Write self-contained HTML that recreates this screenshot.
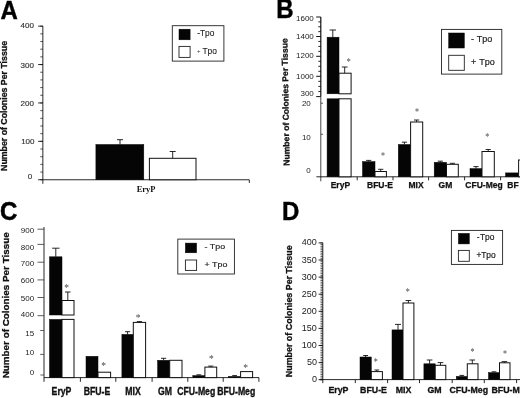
<!DOCTYPE html>
<html lang="en">
<head>
<meta charset="utf-8">
<title>Figure: Number of Colonies Per Tissue</title>
<style>
html,body{margin:0;padding:0;background:#fff;}
body{width:520px;height:398px;overflow:hidden;}
svg{display:block;filter:blur(0.35px);}
</style>
</head>
<body>
<svg width="520" height="398" viewBox="0 0 520 398">
<rect x="0" y="0" width="520" height="398" fill="#fff"/>
<text transform="translate(0.50,18.80) scale(1,1.045)" font-size="24" font-weight="bold" text-anchor="start" font-family='"Liberation Sans", sans-serif' fill="#000" stroke="#000" stroke-width="0.4">A</text>
<line x1="42.85" y1="26.00" x2="42.85" y2="183.75" stroke="#111" stroke-width="0.9"/>
<line x1="42.85" y1="179.75" x2="249.30" y2="179.75" stroke="#111" stroke-width="0.9"/>
<line x1="249.30" y1="179.75" x2="249.30" y2="182.95" stroke="#111" stroke-width="0.9"/>
<line x1="38.15" y1="179.75" x2="42.85" y2="179.75" stroke="#111" stroke-width="0.9"/>
<text x="32.20" y="178.85" font-size="8.0" font-weight="normal" text-anchor="end" font-family='"Liberation Sans", sans-serif' fill="#333" stroke="#333" stroke-width="0.15">0</text>
<line x1="38.15" y1="141.35" x2="42.85" y2="141.35" stroke="#111" stroke-width="0.9"/>
<text x="34.50" y="144.45" font-size="8.0" font-weight="normal" text-anchor="end" font-family='"Liberation Sans", sans-serif' fill="#333" stroke="#333" stroke-width="0.15">100</text>
<line x1="38.15" y1="102.95" x2="42.85" y2="102.95" stroke="#111" stroke-width="0.9"/>
<text x="33.90" y="106.05" font-size="8.0" font-weight="normal" text-anchor="end" font-family='"Liberation Sans", sans-serif' fill="#333" stroke="#333" stroke-width="0.15">200</text>
<line x1="38.15" y1="64.55" x2="42.85" y2="64.55" stroke="#111" stroke-width="0.9"/>
<text x="33.90" y="67.65" font-size="8.0" font-weight="normal" text-anchor="end" font-family='"Liberation Sans", sans-serif' fill="#333" stroke="#333" stroke-width="0.15">300</text>
<line x1="38.15" y1="26.15" x2="42.85" y2="26.15" stroke="#111" stroke-width="0.9"/>
<text x="33.90" y="28.35" font-size="8.0" font-weight="normal" text-anchor="end" font-family='"Liberation Sans", sans-serif' fill="#333" stroke="#333" stroke-width="0.15">400</text>
<line x1="40.25" y1="179.75" x2="42.85" y2="179.75" stroke="#111" stroke-width="0.7"/>
<line x1="40.25" y1="172.07" x2="42.85" y2="172.07" stroke="#111" stroke-width="0.7"/>
<line x1="40.25" y1="164.39" x2="42.85" y2="164.39" stroke="#111" stroke-width="0.7"/>
<line x1="40.25" y1="156.71" x2="42.85" y2="156.71" stroke="#111" stroke-width="0.7"/>
<line x1="40.25" y1="149.03" x2="42.85" y2="149.03" stroke="#111" stroke-width="0.7"/>
<line x1="40.25" y1="141.35" x2="42.85" y2="141.35" stroke="#111" stroke-width="0.7"/>
<line x1="40.25" y1="133.67" x2="42.85" y2="133.67" stroke="#111" stroke-width="0.7"/>
<line x1="40.25" y1="125.99" x2="42.85" y2="125.99" stroke="#111" stroke-width="0.7"/>
<line x1="40.25" y1="118.31" x2="42.85" y2="118.31" stroke="#111" stroke-width="0.7"/>
<line x1="40.25" y1="110.63" x2="42.85" y2="110.63" stroke="#111" stroke-width="0.7"/>
<line x1="40.25" y1="102.95" x2="42.85" y2="102.95" stroke="#111" stroke-width="0.7"/>
<line x1="40.25" y1="95.27" x2="42.85" y2="95.27" stroke="#111" stroke-width="0.7"/>
<line x1="40.25" y1="87.59" x2="42.85" y2="87.59" stroke="#111" stroke-width="0.7"/>
<line x1="40.25" y1="79.91" x2="42.85" y2="79.91" stroke="#111" stroke-width="0.7"/>
<line x1="40.25" y1="72.23" x2="42.85" y2="72.23" stroke="#111" stroke-width="0.7"/>
<line x1="40.25" y1="64.55" x2="42.85" y2="64.55" stroke="#111" stroke-width="0.7"/>
<line x1="40.25" y1="56.87" x2="42.85" y2="56.87" stroke="#111" stroke-width="0.7"/>
<line x1="40.25" y1="49.19" x2="42.85" y2="49.19" stroke="#111" stroke-width="0.7"/>
<line x1="40.25" y1="41.51" x2="42.85" y2="41.51" stroke="#111" stroke-width="0.7"/>
<line x1="40.25" y1="33.83" x2="42.85" y2="33.83" stroke="#111" stroke-width="0.7"/>
<line x1="40.25" y1="26.15" x2="42.85" y2="26.15" stroke="#111" stroke-width="0.7"/>
<text transform="translate(7.30,170.95) rotate(-90)" font-size="8.5" font-weight="bold" font-family='"Liberation Sans", sans-serif' fill="#111" stroke="#111" stroke-width="0.3" textLength="130.00" lengthAdjust="spacingAndGlyphs">Number of Colonies Per Tissue</text>
<rect x="95.90" y="144.50" width="47.90" height="35.25" fill="#050505" stroke="#050505" stroke-width="0.5"/>
<line x1="120.00" y1="139.70" x2="120.00" y2="144.50" stroke="#111" stroke-width="0.9"/>
<line x1="117.00" y1="139.70" x2="123.00" y2="139.70" stroke="#111" stroke-width="0.9"/>
<rect x="149.40" y="158.30" width="46.60" height="21.45" fill="#fff" stroke="#111" stroke-width="1.0"/>
<line x1="172.70" y1="151.50" x2="172.70" y2="158.30" stroke="#111" stroke-width="0.9"/>
<line x1="169.70" y1="151.50" x2="175.70" y2="151.50" stroke="#111" stroke-width="0.9"/>
<text x="146.10" y="191.90" font-size="8.5" font-weight="bold" text-anchor="middle" font-family='"Liberation Serif", serif' fill="#111">EryP</text>
<rect x="172.30" y="25.70" width="51.60" height="35.40" fill="#fff" stroke="#222" stroke-width="0.9"/>
<rect x="179.00" y="29.20" width="11.10" height="10.60" fill="#050505" stroke="#050505" stroke-width="0.5"/>
<rect x="179.00" y="46.40" width="11.10" height="11.00" fill="#fff" stroke="#222" stroke-width="0.9"/>
<text x="197.20" y="35.50" font-size="8.4" font-weight="normal" text-anchor="start" font-family='"Liberation Sans", sans-serif' fill="#222" stroke="#222" stroke-width="0.1">-</text>
<text x="199.90" y="35.50" font-size="8.4" font-weight="normal" text-anchor="start" font-family='"Liberation Sans", sans-serif' fill="#222" stroke="#222" stroke-width="0.1">Tpo</text>
<text x="202.40" y="53.50" font-size="8.4" font-weight="normal" text-anchor="start" font-family='"Liberation Sans", sans-serif' fill="#222" stroke="#222" stroke-width="0.1">Tpo</text>
<text x="197.00" y="53.00" font-size="6" font-weight="normal" text-anchor="start" font-family='"Liberation Sans", sans-serif' fill="#333">+</text>
<text transform="translate(276.20,18.30) scale(1,1.12)" font-size="24" font-weight="bold" text-anchor="start" font-family='"Liberation Sans", sans-serif' fill="#000" stroke="#000" stroke-width="0.4">B</text>
<line x1="320.80" y1="17.00" x2="320.80" y2="96.50" stroke="#111" stroke-width="1.2"/>
<line x1="320.80" y1="96.50" x2="320.80" y2="181.30" stroke="#333" stroke-width="0.9"/>
<line x1="316.40" y1="176.80" x2="520.00" y2="176.80" stroke="#111" stroke-width="0.9"/>
<line x1="316.20" y1="17.00" x2="320.80" y2="17.00" stroke="#111" stroke-width="1.0"/>
<text x="313.80" y="21.30" font-size="8.0" font-weight="normal" text-anchor="end" font-family='"Liberation Sans", sans-serif' fill="#222">1600</text>
<line x1="316.20" y1="36.50" x2="320.80" y2="36.50" stroke="#111" stroke-width="1.0"/>
<text x="313.80" y="39.30" font-size="8.0" font-weight="normal" text-anchor="end" font-family='"Liberation Sans", sans-serif' fill="#222">1400</text>
<line x1="316.20" y1="56.30" x2="320.80" y2="56.30" stroke="#111" stroke-width="1.0"/>
<text x="313.80" y="57.50" font-size="8.0" font-weight="normal" text-anchor="end" font-family='"Liberation Sans", sans-serif' fill="#222">1200</text>
<line x1="316.20" y1="76.30" x2="320.80" y2="76.30" stroke="#111" stroke-width="1.0"/>
<text x="313.80" y="78.90" font-size="8.0" font-weight="normal" text-anchor="end" font-family='"Liberation Sans", sans-serif' fill="#222">1000</text>
<line x1="316.20" y1="96.60" x2="320.80" y2="96.60" stroke="#111" stroke-width="1.0"/>
<text x="313.80" y="96.40" font-size="8.0" font-weight="normal" text-anchor="end" font-family='"Liberation Sans", sans-serif' fill="#222">300</text>
<line x1="320.80" y1="103.20" x2="323.00" y2="103.20" stroke="#333" stroke-width="0.8"/>
<text x="310.80" y="106.20" font-size="8.0" font-weight="normal" text-anchor="end" font-family='"Liberation Sans", sans-serif' fill="#222">20</text>
<line x1="320.80" y1="134.30" x2="323.00" y2="134.30" stroke="#333" stroke-width="0.8"/>
<text x="310.80" y="140.00" font-size="8.0" font-weight="normal" text-anchor="end" font-family='"Liberation Sans", sans-serif' fill="#222">10</text>
<text x="310.80" y="173.00" font-size="8.0" font-weight="normal" text-anchor="end" font-family='"Liberation Sans", sans-serif' fill="#222">0</text>
<line x1="318.30" y1="21.88" x2="320.80" y2="21.88" stroke="#111" stroke-width="0.9"/>
<line x1="318.30" y1="26.75" x2="320.80" y2="26.75" stroke="#111" stroke-width="0.9"/>
<line x1="318.30" y1="31.62" x2="320.80" y2="31.62" stroke="#111" stroke-width="0.9"/>
<line x1="318.30" y1="41.45" x2="320.80" y2="41.45" stroke="#111" stroke-width="0.9"/>
<line x1="318.30" y1="46.40" x2="320.80" y2="46.40" stroke="#111" stroke-width="0.9"/>
<line x1="318.30" y1="51.35" x2="320.80" y2="51.35" stroke="#111" stroke-width="0.9"/>
<line x1="318.30" y1="61.30" x2="320.80" y2="61.30" stroke="#111" stroke-width="0.9"/>
<line x1="318.30" y1="66.30" x2="320.80" y2="66.30" stroke="#111" stroke-width="0.9"/>
<line x1="318.30" y1="71.30" x2="320.80" y2="71.30" stroke="#111" stroke-width="0.9"/>
<line x1="318.30" y1="81.35" x2="320.80" y2="81.35" stroke="#111" stroke-width="0.9"/>
<line x1="318.30" y1="86.40" x2="320.80" y2="86.40" stroke="#111" stroke-width="0.9"/>
<line x1="318.30" y1="91.45" x2="320.80" y2="91.45" stroke="#111" stroke-width="0.9"/>
<text transform="translate(289.60,165.75) rotate(-91.0)" font-size="8.5" font-weight="bold" font-family='"Liberation Sans", sans-serif' fill="#111" stroke="#111" stroke-width="0.3" textLength="127.50" lengthAdjust="spacingAndGlyphs">Number of Colonies Per Tissue</text>
<line x1="357.20" y1="176.80" x2="357.20" y2="180.30" stroke="#111" stroke-width="0.9"/>
<line x1="393.00" y1="176.80" x2="393.00" y2="180.30" stroke="#111" stroke-width="0.9"/>
<line x1="428.60" y1="176.80" x2="428.60" y2="180.30" stroke="#111" stroke-width="0.9"/>
<line x1="464.60" y1="176.80" x2="464.60" y2="180.30" stroke="#111" stroke-width="0.9"/>
<line x1="500.60" y1="176.80" x2="500.60" y2="180.30" stroke="#111" stroke-width="0.9"/>
<rect x="327.10" y="37.20" width="11.90" height="56.60" fill="#050505" stroke="#050505" stroke-width="0.5"/>
<rect x="327.10" y="98.80" width="11.90" height="78.00" fill="#050505" stroke="#050505" stroke-width="0.5"/>
<rect x="339.00" y="73.20" width="12.10" height="20.60" fill="#fff" stroke="#111" stroke-width="1.0"/>
<rect x="339.00" y="98.80" width="12.10" height="78.00" fill="#fff" stroke="#111" stroke-width="1.0"/>
<line x1="332.80" y1="30.00" x2="332.80" y2="37.20" stroke="#111" stroke-width="0.9"/>
<line x1="329.60" y1="30.00" x2="336.00" y2="30.00" stroke="#111" stroke-width="0.9"/>
<line x1="344.70" y1="67.00" x2="344.70" y2="73.20" stroke="#111" stroke-width="0.9"/>
<line x1="341.80" y1="67.00" x2="347.60" y2="67.00" stroke="#111" stroke-width="0.9"/>
<text transform="translate(348.70,65.06) scale(1,1.2)" font-size="8" font-weight="normal" text-anchor="middle" font-family='"Liberation Serif", serif' fill="#484848">*</text>
<rect x="362.50" y="161.60" width="12.50" height="15.20" fill="#050505" stroke="#050505" stroke-width="0.5"/>
<line x1="368.70" y1="160.40" x2="368.70" y2="161.60" stroke="#111" stroke-width="0.9"/>
<line x1="366.10" y1="160.40" x2="371.30" y2="160.40" stroke="#111" stroke-width="0.9"/>
<rect x="375.00" y="171.50" width="11.40" height="5.30" fill="#fff" stroke="#111" stroke-width="1.0"/>
<line x1="380.70" y1="169.30" x2="380.70" y2="171.50" stroke="#111" stroke-width="0.9"/>
<line x1="378.10" y1="169.30" x2="383.30" y2="169.30" stroke="#111" stroke-width="0.9"/>
<text transform="translate(382.90,158.56) scale(1,1.2)" font-size="8" font-weight="normal" text-anchor="middle" font-family='"Liberation Serif", serif' fill="#484848">*</text>
<rect x="398.30" y="144.50" width="12.30" height="32.30" fill="#050505" stroke="#050505" stroke-width="0.5"/>
<line x1="404.40" y1="142.20" x2="404.40" y2="144.50" stroke="#111" stroke-width="0.9"/>
<line x1="401.80" y1="142.20" x2="407.00" y2="142.20" stroke="#111" stroke-width="0.9"/>
<rect x="410.60" y="122.00" width="12.10" height="54.80" fill="#fff" stroke="#111" stroke-width="1.0"/>
<line x1="416.60" y1="120.00" x2="416.60" y2="122.00" stroke="#111" stroke-width="0.9"/>
<line x1="414.00" y1="120.00" x2="419.20" y2="120.00" stroke="#111" stroke-width="0.9"/>
<text transform="translate(417.10,114.56) scale(1,1.2)" font-size="8" font-weight="normal" text-anchor="middle" font-family='"Liberation Serif", serif' fill="#484848">*</text>
<rect x="434.20" y="162.30" width="12.30" height="14.50" fill="#050505" stroke="#050505" stroke-width="0.5"/>
<line x1="440.30" y1="161.20" x2="440.30" y2="162.30" stroke="#111" stroke-width="0.9"/>
<line x1="437.70" y1="161.20" x2="442.90" y2="161.20" stroke="#111" stroke-width="0.9"/>
<rect x="446.50" y="164.30" width="11.80" height="12.50" fill="#fff" stroke="#111" stroke-width="1.0"/>
<line x1="452.40" y1="163.30" x2="452.40" y2="164.30" stroke="#111" stroke-width="0.9"/>
<line x1="449.80" y1="163.30" x2="455.00" y2="163.30" stroke="#111" stroke-width="0.9"/>
<rect x="470.00" y="168.60" width="12.00" height="8.20" fill="#050505" stroke="#050505" stroke-width="0.5"/>
<line x1="476.00" y1="166.60" x2="476.00" y2="168.60" stroke="#111" stroke-width="0.9"/>
<line x1="473.40" y1="166.60" x2="478.60" y2="166.60" stroke="#111" stroke-width="0.9"/>
<rect x="482.00" y="151.50" width="12.30" height="25.30" fill="#fff" stroke="#111" stroke-width="1.0"/>
<line x1="488.20" y1="149.50" x2="488.20" y2="151.50" stroke="#111" stroke-width="0.9"/>
<line x1="485.60" y1="149.50" x2="490.80" y2="149.50" stroke="#111" stroke-width="0.9"/>
<text transform="translate(487.30,140.26) scale(1,1.2)" font-size="8" font-weight="normal" text-anchor="middle" font-family='"Liberation Serif", serif' fill="#484848">*</text>
<rect x="505.60" y="172.90" width="12.80" height="3.90" fill="#050505" stroke="#050505" stroke-width="0.5"/>
<rect x="518.60" y="160.00" width="12.40" height="16.80" fill="#fff" stroke="#111" stroke-width="1.0"/>
<text x="340.40" y="187.70" font-size="8.5" font-weight="bold" text-anchor="middle" font-family='"Liberation Sans", sans-serif' fill="#111" stroke="#111" stroke-width="0.25">EryP</text>
<text x="380.00" y="187.70" font-size="8.5" font-weight="bold" text-anchor="middle" font-family='"Liberation Sans", sans-serif' fill="#111" stroke="#111" stroke-width="0.25">BFU-E</text>
<text x="416.00" y="187.70" font-size="8.5" font-weight="bold" text-anchor="middle" font-family='"Liberation Sans", sans-serif' fill="#111" stroke="#111" stroke-width="0.25">MIX</text>
<text x="445.40" y="187.70" font-size="8.5" font-weight="bold" text-anchor="middle" font-family='"Liberation Sans", sans-serif' fill="#111" stroke="#111" stroke-width="0.25">GM</text>
<text x="484.00" y="187.70" font-size="8.5" font-weight="bold" text-anchor="middle" font-family='"Liberation Sans", sans-serif' fill="#111" stroke="#111" stroke-width="0.25">CFU-Meg</text>
<text x="507.30" y="187.70" font-size="8.5" font-weight="bold" text-anchor="start" font-family='"Liberation Sans", sans-serif' fill="#111" stroke="#111" stroke-width="0.25">BF</text>
<rect x="441.50" y="29.40" width="60.30" height="44.70" fill="#fff" stroke="#222" stroke-width="0.9"/>
<rect x="448.70" y="33.00" width="15.60" height="15.00" fill="#050505" stroke="#050505" stroke-width="0.5"/>
<rect x="448.70" y="55.30" width="15.60" height="15.00" fill="#fff" stroke="#222" stroke-width="0.9"/>
<text x="471.00" y="42.40" font-size="9.0" font-weight="normal" text-anchor="start" font-family='"Liberation Sans", sans-serif' fill="#222" stroke="#222" stroke-width="0.2">-</text>
<text x="476.70" y="42.40" font-size="9.0" font-weight="normal" text-anchor="start" font-family='"Liberation Sans", sans-serif' fill="#222" stroke="#222" stroke-width="0.2">Tpo</text>
<text x="471.00" y="64.70" font-size="9.0" font-weight="normal" text-anchor="start" font-family='"Liberation Sans", sans-serif' fill="#222" stroke="#222" stroke-width="0.2">+</text>
<text x="479.30" y="64.70" font-size="9.0" font-weight="normal" text-anchor="start" font-family='"Liberation Sans", sans-serif' fill="#222" stroke="#222" stroke-width="0.2">Tpo</text>
<text transform="translate(0.00,219.60) scale(1,1.1)" font-size="24" font-weight="bold" text-anchor="start" font-family='"Liberation Sans", sans-serif' fill="#000" stroke="#000" stroke-width="0.5">C</text>
<line x1="44.00" y1="227.00" x2="44.00" y2="381.80" stroke="#111" stroke-width="0.9"/>
<line x1="44.00" y1="377.60" x2="259.00" y2="377.60" stroke="#111" stroke-width="0.9"/>
<line x1="37.50" y1="229.20" x2="44.00" y2="229.20" stroke="#333" stroke-width="0.8"/>
<text x="34.10" y="232.60" font-size="8.0" font-weight="normal" text-anchor="end" font-family='"Liberation Sans", sans-serif' fill="#222">900</text>
<line x1="37.50" y1="244.40" x2="44.00" y2="244.40" stroke="#333" stroke-width="0.8"/>
<text x="34.10" y="250.40" font-size="8.0" font-weight="normal" text-anchor="end" font-family='"Liberation Sans", sans-serif' fill="#222">800</text>
<line x1="37.50" y1="262.20" x2="44.00" y2="262.20" stroke="#333" stroke-width="0.8"/>
<text x="34.10" y="265.90" font-size="8.0" font-weight="normal" text-anchor="end" font-family='"Liberation Sans", sans-serif' fill="#222">700</text>
<line x1="37.50" y1="279.90" x2="44.00" y2="279.90" stroke="#333" stroke-width="0.8"/>
<text x="34.10" y="283.00" font-size="8.0" font-weight="normal" text-anchor="end" font-family='"Liberation Sans", sans-serif' fill="#222">600</text>
<line x1="37.50" y1="297.50" x2="44.00" y2="297.50" stroke="#333" stroke-width="0.8"/>
<text x="34.10" y="301.30" font-size="8.0" font-weight="normal" text-anchor="end" font-family='"Liberation Sans", sans-serif' fill="#222">500</text>
<line x1="37.50" y1="315.70" x2="44.00" y2="315.70" stroke="#333" stroke-width="0.8"/>
<text x="34.10" y="316.50" font-size="8.0" font-weight="normal" text-anchor="end" font-family='"Liberation Sans", sans-serif' fill="#222">400</text>
<line x1="40.20" y1="330.50" x2="44.00" y2="330.50" stroke="#333" stroke-width="0.8"/>
<text x="34.10" y="335.70" font-size="8.0" font-weight="normal" text-anchor="end" font-family='"Liberation Sans", sans-serif' fill="#222">15</text>
<line x1="40.20" y1="354.40" x2="44.00" y2="354.40" stroke="#333" stroke-width="0.8"/>
<text x="34.10" y="355.10" font-size="8.0" font-weight="normal" text-anchor="end" font-family='"Liberation Sans", sans-serif' fill="#222">10</text>
<line x1="40.40" y1="375.00" x2="44.00" y2="375.00" stroke="#333" stroke-width="0.8"/>
<text x="34.10" y="374.50" font-size="8.0" font-weight="normal" text-anchor="end" font-family='"Liberation Sans", sans-serif' fill="#222">0</text>
<text transform="translate(8.80,378.30) rotate(-90)" font-size="8.8" font-weight="bold" font-family='"Liberation Sans", sans-serif' fill="#111" stroke="#111" stroke-width="0.3" textLength="146.00" lengthAdjust="spacingAndGlyphs">Number of Colonies Per Tissue</text>
<line x1="80.40" y1="377.60" x2="80.40" y2="381.80" stroke="#111" stroke-width="0.9"/>
<line x1="115.80" y1="377.60" x2="115.80" y2="381.80" stroke="#111" stroke-width="0.9"/>
<line x1="152.10" y1="377.60" x2="152.10" y2="381.80" stroke="#111" stroke-width="0.9"/>
<line x1="187.80" y1="377.60" x2="187.80" y2="381.80" stroke="#111" stroke-width="0.9"/>
<line x1="223.20" y1="377.60" x2="223.20" y2="381.80" stroke="#111" stroke-width="0.9"/>
<line x1="258.90" y1="377.60" x2="258.90" y2="381.80" stroke="#111" stroke-width="0.9"/>
<rect x="49.50" y="256.80" width="12.50" height="58.20" fill="#050505" stroke="#050505" stroke-width="0.5"/>
<rect x="49.50" y="319.40" width="12.50" height="58.20" fill="#050505" stroke="#050505" stroke-width="0.5"/>
<rect x="62.00" y="300.50" width="12.00" height="14.50" fill="#fff" stroke="#111" stroke-width="1.0"/>
<rect x="62.00" y="319.40" width="12.00" height="58.20" fill="#fff" stroke="#111" stroke-width="1.0"/>
<line x1="55.80" y1="248.20" x2="55.80" y2="256.80" stroke="#111" stroke-width="0.9"/>
<line x1="52.10" y1="248.20" x2="59.50" y2="248.20" stroke="#111" stroke-width="0.9"/>
<line x1="67.80" y1="292.00" x2="67.80" y2="300.50" stroke="#111" stroke-width="0.9"/>
<line x1="65.00" y1="292.00" x2="70.60" y2="292.00" stroke="#111" stroke-width="0.9"/>
<text transform="translate(66.70,291.42) scale(1,1.2)" font-size="9.5" font-weight="normal" text-anchor="middle" font-family='"Liberation Serif", serif' fill="#484848">*</text>
<rect x="86.00" y="356.30" width="12.00" height="21.30" fill="#050505" stroke="#050505" stroke-width="0.5"/>
<rect x="98.00" y="372.20" width="12.60" height="5.40" fill="#fff" stroke="#111" stroke-width="1.0"/>
<text transform="translate(103.60,368.92) scale(1,1.2)" font-size="9.5" font-weight="normal" text-anchor="middle" font-family='"Liberation Serif", serif' fill="#484848">*</text>
<rect x="121.90" y="334.40" width="11.40" height="43.20" fill="#050505" stroke="#050505" stroke-width="0.5"/>
<line x1="127.60" y1="331.70" x2="127.60" y2="334.40" stroke="#111" stroke-width="0.9"/>
<line x1="125.00" y1="331.70" x2="130.20" y2="331.70" stroke="#111" stroke-width="0.9"/>
<rect x="133.30" y="322.40" width="12.30" height="55.20" fill="#fff" stroke="#111" stroke-width="1.0"/>
<line x1="139.40" y1="321.60" x2="139.40" y2="322.40" stroke="#111" stroke-width="0.9"/>
<line x1="136.80" y1="321.60" x2="142.00" y2="321.60" stroke="#111" stroke-width="0.9"/>
<text transform="translate(138.10,321.02) scale(1,1.2)" font-size="9.5" font-weight="normal" text-anchor="middle" font-family='"Liberation Serif", serif' fill="#484848">*</text>
<rect x="157.60" y="360.30" width="12.10" height="17.30" fill="#050505" stroke="#050505" stroke-width="0.5"/>
<line x1="163.60" y1="358.30" x2="163.60" y2="360.30" stroke="#111" stroke-width="0.9"/>
<line x1="161.00" y1="358.30" x2="166.20" y2="358.30" stroke="#111" stroke-width="0.9"/>
<rect x="169.70" y="360.30" width="12.30" height="17.30" fill="#fff" stroke="#111" stroke-width="1.0"/>
<rect x="192.80" y="375.60" width="12.10" height="2.00" fill="#050505" stroke="#050505" stroke-width="0.5"/>
<line x1="198.80" y1="374.80" x2="198.80" y2="375.60" stroke="#111" stroke-width="0.9"/>
<line x1="196.40" y1="374.80" x2="201.20" y2="374.80" stroke="#111" stroke-width="0.9"/>
<rect x="204.90" y="367.10" width="11.80" height="10.50" fill="#fff" stroke="#111" stroke-width="1.0"/>
<line x1="210.80" y1="366.10" x2="210.80" y2="367.10" stroke="#111" stroke-width="0.9"/>
<line x1="208.20" y1="366.10" x2="213.40" y2="366.10" stroke="#111" stroke-width="0.9"/>
<text transform="translate(211.30,362.42) scale(1,1.2)" font-size="9.5" font-weight="normal" text-anchor="middle" font-family='"Liberation Serif", serif' fill="#484848">*</text>
<rect x="228.70" y="376.40" width="11.90" height="1.20" fill="#050505" stroke="#050505" stroke-width="0.5"/>
<line x1="234.60" y1="375.60" x2="234.60" y2="376.40" stroke="#111" stroke-width="0.9"/>
<line x1="232.20" y1="375.60" x2="237.00" y2="375.60" stroke="#111" stroke-width="0.9"/>
<rect x="240.60" y="371.60" width="12.00" height="6.00" fill="#fff" stroke="#111" stroke-width="1.0"/>
<text transform="translate(245.70,370.72) scale(1,1.2)" font-size="9.5" font-weight="normal" text-anchor="middle" font-family='"Liberation Serif", serif' fill="#484848">*</text>
<text transform="translate(61.50,395.20) scale(1,1.2)" font-size="8.7" font-weight="bold" text-anchor="middle" font-family='"Liberation Sans", sans-serif' fill="#111" stroke="#111" stroke-width="0.3">EryP</text>
<text transform="translate(97.00,395.20) scale(1,1.2)" font-size="8.7" font-weight="bold" text-anchor="middle" font-family='"Liberation Sans", sans-serif' fill="#111" stroke="#111" stroke-width="0.3">BFU-E</text>
<text transform="translate(133.00,395.20) scale(1,1.2)" font-size="8.7" font-weight="bold" text-anchor="middle" font-family='"Liberation Sans", sans-serif' fill="#111" stroke="#111" stroke-width="0.3">MIX</text>
<text transform="translate(165.00,395.20) scale(1,1.2)" font-size="8.7" font-weight="bold" text-anchor="middle" font-family='"Liberation Sans", sans-serif' fill="#111" stroke="#111" stroke-width="0.3">GM</text>
<text transform="translate(196.20,395.20) scale(1,1.2)" font-size="8.7" font-weight="bold" text-anchor="middle" font-family='"Liberation Sans", sans-serif' fill="#111" stroke="#111" stroke-width="0.3">CFU-Meg</text>
<text transform="translate(236.20,395.20) scale(1,1.2)" font-size="8.7" font-weight="bold" text-anchor="middle" font-family='"Liberation Sans", sans-serif' fill="#111" stroke="#111" stroke-width="0.3">BFU-Meg</text>
<rect x="177.80" y="239.10" width="56.60" height="34.90" fill="#fff" stroke="#222" stroke-width="0.9"/>
<rect x="185.40" y="243.10" width="11.20" height="9.70" fill="#050505" stroke="#050505" stroke-width="0.5"/>
<rect x="185.40" y="260.00" width="11.20" height="10.40" fill="#fff" stroke="#222" stroke-width="0.9"/>
<text transform="translate(204.60,249.20) scale(1,0.9)" font-size="8.9" font-weight="normal" text-anchor="start" font-family='"Liberation Sans", sans-serif' fill="#222" stroke="#222" stroke-width="0.2">- Tpo</text>
<text transform="translate(204.60,266.70) scale(1,0.9)" font-size="8.9" font-weight="normal" text-anchor="start" font-family='"Liberation Sans", sans-serif' fill="#222" stroke="#222" stroke-width="0.2">+ Tpo</text>
<text transform="translate(281.90,220.00) scale(1,1.08)" font-size="24" font-weight="bold" text-anchor="start" font-family='"Liberation Sans", sans-serif' fill="#000" stroke="#000" stroke-width="0.4">D</text>
<line x1="322.80" y1="242.90" x2="322.80" y2="383.10" stroke="#111" stroke-width="0.9"/>
<line x1="319.80" y1="379.60" x2="520.00" y2="379.60" stroke="#111" stroke-width="0.9"/>
<line x1="318.60" y1="379.70" x2="322.80" y2="379.70" stroke="#111" stroke-width="0.9"/>
<text x="316.90" y="382.00" font-size="9.0" font-weight="normal" text-anchor="end" font-family='"Liberation Sans", sans-serif' fill="#222">0</text>
<line x1="318.60" y1="362.60" x2="322.80" y2="362.60" stroke="#111" stroke-width="0.9"/>
<text x="316.90" y="364.93" font-size="9.0" font-weight="normal" text-anchor="end" font-family='"Liberation Sans", sans-serif' fill="#222">50</text>
<line x1="318.60" y1="345.50" x2="322.80" y2="345.50" stroke="#111" stroke-width="0.9"/>
<text x="316.90" y="347.86" font-size="9.0" font-weight="normal" text-anchor="end" font-family='"Liberation Sans", sans-serif' fill="#222">100</text>
<line x1="318.60" y1="328.40" x2="322.80" y2="328.40" stroke="#111" stroke-width="0.9"/>
<text x="316.90" y="330.79" font-size="9.0" font-weight="normal" text-anchor="end" font-family='"Liberation Sans", sans-serif' fill="#222">150</text>
<line x1="318.60" y1="311.30" x2="322.80" y2="311.30" stroke="#111" stroke-width="0.9"/>
<text x="316.90" y="313.72" font-size="9.0" font-weight="normal" text-anchor="end" font-family='"Liberation Sans", sans-serif' fill="#222">200</text>
<line x1="318.60" y1="294.20" x2="322.80" y2="294.20" stroke="#111" stroke-width="0.9"/>
<text x="316.90" y="296.65" font-size="9.0" font-weight="normal" text-anchor="end" font-family='"Liberation Sans", sans-serif' fill="#222">250</text>
<line x1="318.60" y1="277.10" x2="322.80" y2="277.10" stroke="#111" stroke-width="0.9"/>
<text x="316.90" y="279.58" font-size="9.0" font-weight="normal" text-anchor="end" font-family='"Liberation Sans", sans-serif' fill="#222">300</text>
<line x1="318.60" y1="260.00" x2="322.80" y2="260.00" stroke="#111" stroke-width="0.9"/>
<text x="316.90" y="262.51" font-size="9.0" font-weight="normal" text-anchor="end" font-family='"Liberation Sans", sans-serif' fill="#222">350</text>
<line x1="318.60" y1="242.90" x2="322.80" y2="242.90" stroke="#111" stroke-width="0.9"/>
<text x="316.90" y="245.44" font-size="9.0" font-weight="normal" text-anchor="end" font-family='"Liberation Sans", sans-serif' fill="#222">400</text>
<line x1="320.50" y1="379.70" x2="322.80" y2="379.70" stroke="#111" stroke-width="0.7"/>
<line x1="320.50" y1="377.99" x2="322.80" y2="377.99" stroke="#111" stroke-width="0.7"/>
<line x1="320.50" y1="376.28" x2="322.80" y2="376.28" stroke="#111" stroke-width="0.7"/>
<line x1="320.50" y1="374.57" x2="322.80" y2="374.57" stroke="#111" stroke-width="0.7"/>
<line x1="320.50" y1="372.86" x2="322.80" y2="372.86" stroke="#111" stroke-width="0.7"/>
<line x1="320.50" y1="371.15" x2="322.80" y2="371.15" stroke="#111" stroke-width="0.7"/>
<line x1="320.50" y1="369.44" x2="322.80" y2="369.44" stroke="#111" stroke-width="0.7"/>
<line x1="320.50" y1="367.73" x2="322.80" y2="367.73" stroke="#111" stroke-width="0.7"/>
<line x1="320.50" y1="366.02" x2="322.80" y2="366.02" stroke="#111" stroke-width="0.7"/>
<line x1="320.50" y1="364.31" x2="322.80" y2="364.31" stroke="#111" stroke-width="0.7"/>
<line x1="320.50" y1="362.60" x2="322.80" y2="362.60" stroke="#111" stroke-width="0.7"/>
<line x1="320.50" y1="360.89" x2="322.80" y2="360.89" stroke="#111" stroke-width="0.7"/>
<line x1="320.50" y1="359.18" x2="322.80" y2="359.18" stroke="#111" stroke-width="0.7"/>
<line x1="320.50" y1="357.47" x2="322.80" y2="357.47" stroke="#111" stroke-width="0.7"/>
<line x1="320.50" y1="355.76" x2="322.80" y2="355.76" stroke="#111" stroke-width="0.7"/>
<line x1="320.50" y1="354.05" x2="322.80" y2="354.05" stroke="#111" stroke-width="0.7"/>
<line x1="320.50" y1="352.34" x2="322.80" y2="352.34" stroke="#111" stroke-width="0.7"/>
<line x1="320.50" y1="350.63" x2="322.80" y2="350.63" stroke="#111" stroke-width="0.7"/>
<line x1="320.50" y1="348.92" x2="322.80" y2="348.92" stroke="#111" stroke-width="0.7"/>
<line x1="320.50" y1="347.21" x2="322.80" y2="347.21" stroke="#111" stroke-width="0.7"/>
<line x1="320.50" y1="345.50" x2="322.80" y2="345.50" stroke="#111" stroke-width="0.7"/>
<line x1="320.50" y1="343.79" x2="322.80" y2="343.79" stroke="#111" stroke-width="0.7"/>
<line x1="320.50" y1="342.08" x2="322.80" y2="342.08" stroke="#111" stroke-width="0.7"/>
<line x1="320.50" y1="340.37" x2="322.80" y2="340.37" stroke="#111" stroke-width="0.7"/>
<line x1="320.50" y1="338.66" x2="322.80" y2="338.66" stroke="#111" stroke-width="0.7"/>
<line x1="320.50" y1="336.95" x2="322.80" y2="336.95" stroke="#111" stroke-width="0.7"/>
<line x1="320.50" y1="335.24" x2="322.80" y2="335.24" stroke="#111" stroke-width="0.7"/>
<line x1="320.50" y1="333.53" x2="322.80" y2="333.53" stroke="#111" stroke-width="0.7"/>
<line x1="320.50" y1="331.82" x2="322.80" y2="331.82" stroke="#111" stroke-width="0.7"/>
<line x1="320.50" y1="330.11" x2="322.80" y2="330.11" stroke="#111" stroke-width="0.7"/>
<line x1="320.50" y1="328.40" x2="322.80" y2="328.40" stroke="#111" stroke-width="0.7"/>
<line x1="320.50" y1="326.69" x2="322.80" y2="326.69" stroke="#111" stroke-width="0.7"/>
<line x1="320.50" y1="324.98" x2="322.80" y2="324.98" stroke="#111" stroke-width="0.7"/>
<line x1="320.50" y1="323.27" x2="322.80" y2="323.27" stroke="#111" stroke-width="0.7"/>
<line x1="320.50" y1="321.56" x2="322.80" y2="321.56" stroke="#111" stroke-width="0.7"/>
<line x1="320.50" y1="319.85" x2="322.80" y2="319.85" stroke="#111" stroke-width="0.7"/>
<line x1="320.50" y1="318.14" x2="322.80" y2="318.14" stroke="#111" stroke-width="0.7"/>
<line x1="320.50" y1="316.43" x2="322.80" y2="316.43" stroke="#111" stroke-width="0.7"/>
<line x1="320.50" y1="314.72" x2="322.80" y2="314.72" stroke="#111" stroke-width="0.7"/>
<line x1="320.50" y1="313.01" x2="322.80" y2="313.01" stroke="#111" stroke-width="0.7"/>
<line x1="320.50" y1="311.30" x2="322.80" y2="311.30" stroke="#111" stroke-width="0.7"/>
<line x1="320.50" y1="309.59" x2="322.80" y2="309.59" stroke="#111" stroke-width="0.7"/>
<line x1="320.50" y1="307.88" x2="322.80" y2="307.88" stroke="#111" stroke-width="0.7"/>
<line x1="320.50" y1="306.17" x2="322.80" y2="306.17" stroke="#111" stroke-width="0.7"/>
<line x1="320.50" y1="304.46" x2="322.80" y2="304.46" stroke="#111" stroke-width="0.7"/>
<line x1="320.50" y1="302.75" x2="322.80" y2="302.75" stroke="#111" stroke-width="0.7"/>
<line x1="320.50" y1="301.04" x2="322.80" y2="301.04" stroke="#111" stroke-width="0.7"/>
<line x1="320.50" y1="299.33" x2="322.80" y2="299.33" stroke="#111" stroke-width="0.7"/>
<line x1="320.50" y1="297.62" x2="322.80" y2="297.62" stroke="#111" stroke-width="0.7"/>
<line x1="320.50" y1="295.91" x2="322.80" y2="295.91" stroke="#111" stroke-width="0.7"/>
<line x1="320.50" y1="294.20" x2="322.80" y2="294.20" stroke="#111" stroke-width="0.7"/>
<line x1="320.50" y1="292.49" x2="322.80" y2="292.49" stroke="#111" stroke-width="0.7"/>
<line x1="320.50" y1="290.78" x2="322.80" y2="290.78" stroke="#111" stroke-width="0.7"/>
<line x1="320.50" y1="289.07" x2="322.80" y2="289.07" stroke="#111" stroke-width="0.7"/>
<line x1="320.50" y1="287.36" x2="322.80" y2="287.36" stroke="#111" stroke-width="0.7"/>
<line x1="320.50" y1="285.65" x2="322.80" y2="285.65" stroke="#111" stroke-width="0.7"/>
<line x1="320.50" y1="283.94" x2="322.80" y2="283.94" stroke="#111" stroke-width="0.7"/>
<line x1="320.50" y1="282.23" x2="322.80" y2="282.23" stroke="#111" stroke-width="0.7"/>
<line x1="320.50" y1="280.52" x2="322.80" y2="280.52" stroke="#111" stroke-width="0.7"/>
<line x1="320.50" y1="278.81" x2="322.80" y2="278.81" stroke="#111" stroke-width="0.7"/>
<line x1="320.50" y1="277.10" x2="322.80" y2="277.10" stroke="#111" stroke-width="0.7"/>
<line x1="320.50" y1="275.39" x2="322.80" y2="275.39" stroke="#111" stroke-width="0.7"/>
<line x1="320.50" y1="273.68" x2="322.80" y2="273.68" stroke="#111" stroke-width="0.7"/>
<line x1="320.50" y1="271.97" x2="322.80" y2="271.97" stroke="#111" stroke-width="0.7"/>
<line x1="320.50" y1="270.26" x2="322.80" y2="270.26" stroke="#111" stroke-width="0.7"/>
<line x1="320.50" y1="268.55" x2="322.80" y2="268.55" stroke="#111" stroke-width="0.7"/>
<line x1="320.50" y1="266.84" x2="322.80" y2="266.84" stroke="#111" stroke-width="0.7"/>
<line x1="320.50" y1="265.13" x2="322.80" y2="265.13" stroke="#111" stroke-width="0.7"/>
<line x1="320.50" y1="263.42" x2="322.80" y2="263.42" stroke="#111" stroke-width="0.7"/>
<line x1="320.50" y1="261.71" x2="322.80" y2="261.71" stroke="#111" stroke-width="0.7"/>
<line x1="320.50" y1="260.00" x2="322.80" y2="260.00" stroke="#111" stroke-width="0.7"/>
<line x1="320.50" y1="258.29" x2="322.80" y2="258.29" stroke="#111" stroke-width="0.7"/>
<line x1="320.50" y1="256.58" x2="322.80" y2="256.58" stroke="#111" stroke-width="0.7"/>
<line x1="320.50" y1="254.87" x2="322.80" y2="254.87" stroke="#111" stroke-width="0.7"/>
<line x1="320.50" y1="253.16" x2="322.80" y2="253.16" stroke="#111" stroke-width="0.7"/>
<line x1="320.50" y1="251.45" x2="322.80" y2="251.45" stroke="#111" stroke-width="0.7"/>
<line x1="320.50" y1="249.74" x2="322.80" y2="249.74" stroke="#111" stroke-width="0.7"/>
<line x1="320.50" y1="248.03" x2="322.80" y2="248.03" stroke="#111" stroke-width="0.7"/>
<line x1="320.50" y1="246.32" x2="322.80" y2="246.32" stroke="#111" stroke-width="0.7"/>
<line x1="320.50" y1="244.61" x2="322.80" y2="244.61" stroke="#111" stroke-width="0.7"/>
<line x1="320.50" y1="242.90" x2="322.80" y2="242.90" stroke="#111" stroke-width="0.7"/>
<text transform="translate(291.60,377.20) rotate(-90)" font-size="8.5" font-weight="bold" font-family='"Liberation Sans", sans-serif' fill="#111" stroke="#111" stroke-width="0.3" textLength="131.80" lengthAdjust="spacingAndGlyphs">Number of Colonies Per Tissue</text>
<line x1="355.30" y1="379.60" x2="355.30" y2="383.10" stroke="#111" stroke-width="0.9"/>
<line x1="387.60" y1="379.60" x2="387.60" y2="383.10" stroke="#111" stroke-width="0.9"/>
<line x1="419.50" y1="379.60" x2="419.50" y2="383.10" stroke="#111" stroke-width="0.9"/>
<line x1="452.20" y1="379.60" x2="452.20" y2="383.10" stroke="#111" stroke-width="0.9"/>
<line x1="484.30" y1="379.60" x2="484.30" y2="383.10" stroke="#111" stroke-width="0.9"/>
<line x1="516.60" y1="379.60" x2="516.60" y2="383.10" stroke="#111" stroke-width="0.9"/>
<rect x="360.00" y="357.00" width="11.30" height="22.60" fill="#050505" stroke="#050505" stroke-width="0.5"/>
<line x1="365.60" y1="355.50" x2="365.60" y2="357.00" stroke="#111" stroke-width="0.9"/>
<line x1="363.20" y1="355.50" x2="368.00" y2="355.50" stroke="#111" stroke-width="0.9"/>
<rect x="371.30" y="371.60" width="11.10" height="8.00" fill="#fff" stroke="#111" stroke-width="1.0"/>
<line x1="376.80" y1="370.00" x2="376.80" y2="371.60" stroke="#111" stroke-width="0.9"/>
<line x1="374.40" y1="370.00" x2="379.20" y2="370.00" stroke="#111" stroke-width="0.9"/>
<text transform="translate(375.70,365.36) scale(1,1.2)" font-size="8" font-weight="normal" text-anchor="middle" font-family='"Liberation Serif", serif' fill="#484848">*</text>
<rect x="392.00" y="329.90" width="11.00" height="49.70" fill="#050505" stroke="#050505" stroke-width="0.5"/>
<line x1="398.00" y1="324.40" x2="398.00" y2="329.90" stroke="#111" stroke-width="0.9"/>
<line x1="395.00" y1="324.40" x2="401.00" y2="324.40" stroke="#111" stroke-width="0.9"/>
<rect x="403.00" y="303.00" width="10.90" height="76.60" fill="#fff" stroke="#111" stroke-width="1.0"/>
<line x1="408.40" y1="300.50" x2="408.40" y2="303.00" stroke="#111" stroke-width="0.9"/>
<line x1="405.60" y1="300.50" x2="411.20" y2="300.50" stroke="#111" stroke-width="0.9"/>
<text transform="translate(407.70,295.26) scale(1,1.2)" font-size="8" font-weight="normal" text-anchor="middle" font-family='"Liberation Serif", serif' fill="#484848">*</text>
<rect x="423.90" y="363.80" width="11.30" height="15.80" fill="#050505" stroke="#050505" stroke-width="0.5"/>
<line x1="429.60" y1="360.00" x2="429.60" y2="363.80" stroke="#111" stroke-width="0.9"/>
<line x1="426.80" y1="360.00" x2="432.40" y2="360.00" stroke="#111" stroke-width="0.9"/>
<rect x="435.20" y="365.30" width="10.60" height="14.30" fill="#fff" stroke="#111" stroke-width="1.0"/>
<line x1="440.50" y1="362.60" x2="440.50" y2="365.30" stroke="#111" stroke-width="0.9"/>
<line x1="437.70" y1="362.60" x2="443.30" y2="362.60" stroke="#111" stroke-width="0.9"/>
<rect x="456.30" y="376.40" width="11.00" height="3.20" fill="#050505" stroke="#050505" stroke-width="0.5"/>
<line x1="461.80" y1="375.40" x2="461.80" y2="376.40" stroke="#111" stroke-width="0.9"/>
<line x1="459.40" y1="375.40" x2="464.20" y2="375.40" stroke="#111" stroke-width="0.9"/>
<rect x="467.30" y="363.80" width="10.70" height="15.80" fill="#fff" stroke="#111" stroke-width="1.0"/>
<line x1="472.30" y1="360.00" x2="472.30" y2="363.80" stroke="#111" stroke-width="0.9"/>
<line x1="469.50" y1="360.00" x2="475.10" y2="360.00" stroke="#111" stroke-width="0.9"/>
<text transform="translate(472.50,354.56) scale(1,1.2)" font-size="8" font-weight="normal" text-anchor="middle" font-family='"Liberation Serif", serif' fill="#484848">*</text>
<rect x="488.50" y="372.60" width="11.00" height="7.00" fill="#050505" stroke="#050505" stroke-width="0.5"/>
<line x1="494.00" y1="371.80" x2="494.00" y2="372.60" stroke="#111" stroke-width="0.9"/>
<line x1="491.60" y1="371.80" x2="496.40" y2="371.80" stroke="#111" stroke-width="0.9"/>
<rect x="499.50" y="362.80" width="10.50" height="16.80" fill="#fff" stroke="#111" stroke-width="1.0"/>
<line x1="504.40" y1="361.60" x2="504.40" y2="362.80" stroke="#111" stroke-width="0.9"/>
<line x1="501.60" y1="361.60" x2="507.20" y2="361.60" stroke="#111" stroke-width="0.9"/>
<text transform="translate(505.10,356.56) scale(1,1.2)" font-size="8" font-weight="normal" text-anchor="middle" font-family='"Liberation Serif", serif' fill="#484848">*</text>
<text transform="translate(338.40,392.50) scale(1,1.07)" font-size="8.8" font-weight="bold" text-anchor="middle" font-family='"Liberation Sans", sans-serif' fill="#111" stroke="#111" stroke-width="0.3">EryP</text>
<text transform="translate(373.50,392.50) scale(1,1.07)" font-size="8.8" font-weight="bold" text-anchor="middle" font-family='"Liberation Sans", sans-serif' fill="#111" stroke="#111" stroke-width="0.3">BFU-E</text>
<text transform="translate(403.60,392.50) scale(1,1.07)" font-size="8.8" font-weight="bold" text-anchor="middle" font-family='"Liberation Sans", sans-serif' fill="#111" stroke="#111" stroke-width="0.3">MIX</text>
<text transform="translate(434.60,392.50) scale(1,1.07)" font-size="8.8" font-weight="bold" text-anchor="middle" font-family='"Liberation Sans", sans-serif' fill="#111" stroke="#111" stroke-width="0.3">GM</text>
<text transform="translate(468.70,392.50) scale(1,1.07)" font-size="8.8" font-weight="bold" text-anchor="middle" font-family='"Liberation Sans", sans-serif' fill="#111" stroke="#111" stroke-width="0.3">CFU-Meg</text>
<text transform="translate(491.50,392.50) scale(1,1.07)" font-size="8.8" font-weight="bold" text-anchor="start" font-family='"Liberation Sans", sans-serif' fill="#111" textLength="28.40" lengthAdjust="spacingAndGlyphs" stroke="#111" stroke-width="0.3">BFU-M</text>
<rect x="451.40" y="230.40" width="51.20" height="34.00" fill="#fff" stroke="#222" stroke-width="0.9"/>
<rect x="458.40" y="233.40" width="10.90" height="10.50" fill="#050505" stroke="#050505" stroke-width="0.5"/>
<rect x="458.40" y="250.40" width="10.90" height="10.90" fill="#fff" stroke="#222" stroke-width="0.9"/>
<text x="476.80" y="240.00" font-size="8.4" font-weight="normal" text-anchor="start" font-family='"Liberation Sans", sans-serif' fill="#222" stroke="#222" stroke-width="0.2">-</text>
<text x="480.00" y="240.00" font-size="8.4" font-weight="normal" text-anchor="start" font-family='"Liberation Sans", sans-serif' fill="#222" stroke="#222" stroke-width="0.2">Tpo</text>
<text x="476.60" y="257.80" font-size="8.4" font-weight="normal" text-anchor="start" font-family='"Liberation Sans", sans-serif' fill="#222" stroke="#222" stroke-width="0.2">+</text>
<text x="481.20" y="257.80" font-size="8.4" font-weight="normal" text-anchor="start" font-family='"Liberation Sans", sans-serif' fill="#222" stroke="#222" stroke-width="0.2">Tpo</text>
</svg>
</body>
</html>
